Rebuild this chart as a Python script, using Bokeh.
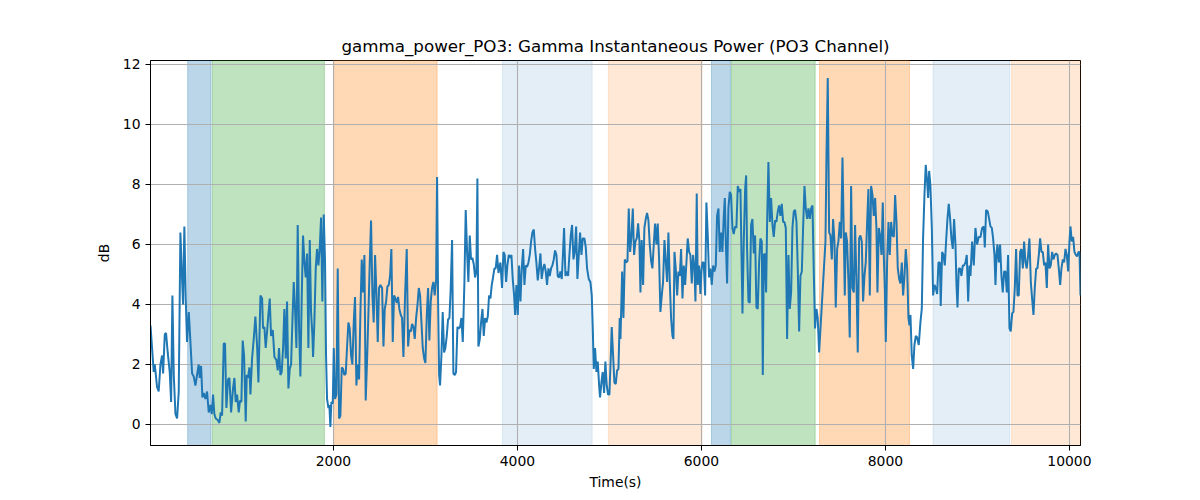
from bokeh.plotting import figure
from bokeh.models import Range1d, FixedTicker, BoxAnnotation
from bokeh.embed import file_html
from bokeh.resources import INLINE

# ---- data: time (s) and gamma power (dB) ----
t_a = [12, 47, 58, 72, 83, 101, 120, 138, 149, 167, 181, 199, 221, 236, 250, 265, 283, 301, 319, 337,
       351, 366, 380, 395, 409, 428, 446, 464, 482, 500, 518, 536, 547, 562, 576, 591, 609, 627, 645, 663,
       678, 692, 706, 721, 743, 761, 775, 790, 808, 822, 837, 855, 870, 888, 909, 924, 938, 953, 971, 985,
       1000, 1014, 1029, 1047, 1058, 1072, 1087, 1098, 1116, 1134, 1152, 1170, 1185]
db_a = [3.3, 1.75, 2.0, 1.6, 1.25, 1.1, 2.0, 2.3, 1.7, 3.0, 3.05, 2.4, 1.75, 0.75, 4.3, 1.65, 0.35, 0.2, 1.1, 6.4,
        5.2, 4.0, 6.6, 4.2, 2.75, 3.75, 2.75, 1.7, 1.6, 1.3, 1.65, 2.0, 1.55, 1.95, 0.9, 1.05, 0.85, 1.1, 0.4, 0.65,
        0.35, 1.0, 0.35, 0.2, 0.15, 0.05, 0.4, 0.3, 2.7, 2.7, 0.55, 1.5, 1.55, 0.4, 1.2, 1.55, 0.75, 1.0, 0.4, 0.8,
        0.75, 2.8, 2.3, 0.1, 1.65, 1.55, 1.9, 1.0, 2.2, 2.85, 3.6, 2.65, 1.4]

t_b = [1207, 1225, 1235, 1250, 1264, 1279, 1293, 1308, 1322, 1341, 1359, 1380, 1395, 1409, 1424, 1438, 1453, 1467,
       1482, 1496, 1511, 1525, 1540, 1554, 1569, 1583, 1598, 1612, 1627, 1641, 1656, 1670, 1685, 1699, 1714, 1728,
       1743, 1757, 1772, 1779, 1793, 1808, 1822, 1837, 1851, 1866, 1880, 1895, 1909, 1920, 1931, 1946, 1956, 1967,
       1978, 1993, 2004, 2018, 2033, 2047, 2062, 2076, 2091, 2105, 2119, 2134, 2148, 2163, 2177, 2192, 2206, 2221,
       2235, 2250, 2264, 2279, 2293, 2308, 2322, 2337, 2351, 2366, 2380, 2395, 2409, 2424, 2438, 2453, 2467, 2482,
       2496]
db_b = [4.3, 4.2, 3.2, 3.25, 2.55, 3.1, 3.65, 4.2, 2.95, 3.15, 2.25, 2.15, 1.8, 2.55, 1.65, 1.75, 2.55, 3.85,
        2.2, 4.1, 1.2, 1.85, 2.0, 3.4, 4.75, 3.85, 2.55, 6.65, 3.2, 1.6, 4.3, 6.3, 5.4, 4.9, 5.7, 2.55,
        6.15, 3.75, 2.95, 2.25, 3.4, 5.2, 5.85, 5.3, 5.85, 6.9, 4.1, 7.0, 5.4, 2.3, 0.85, 0.55, 0.65, -0.08,
        0.75, 0.7, 2.55, 0.85, 1.0, 5.2, 0.2, 0.3, 1.9, 1.85, 1.65, 1.7, 2.55, 3.4, 3.2, 2.3, 2.0, 3.4,
        4.25, 1.3, 2.0, 1.5, 3.65, 5.5, 4.4, 5.65, 0.8, 2.15, 3.65, 5.4, 6.8, 4.3, 3.4, 5.65, 4.4, 2.75,
        4.55]

t_c = [2511, 2529, 2544, 2558, 2573, 2587, 2602, 2616, 2630, 2645, 2659, 2674, 2688, 2703, 2717, 2732, 2746, 2761,
       2779, 2797, 2812, 2826, 2841, 2855, 2870, 2884, 2899, 2913, 2928, 2942, 2957, 2971, 2986, 3000, 3015, 3029,
       3043, 3058, 3072, 3087, 3101, 3116, 3127, 3138, 3149, 3159, 3174, 3188, 3203, 3217, 3232, 3246, 3261, 3275,
       3290, 3304, 3319, 3333, 3348, 3362, 3377, 3391, 3406, 3424, 3438, 3453, 3467, 3482, 3496, 3511, 3525, 3540,
       3554, 3565, 3576, 3591, 3605, 3620, 3634, 3649, 3663, 3678, 3692, 3707, 3721, 3735, 3750, 3764, 3779, 3794]
db_c = [4.65, 4.55, 2.6, 3.85, 4.1, 4.6, 4.65, 4.95, 5.85, 2.75, 4.3, 4.2, 4.05, 4.25, 3.85, 3.65, 3.55, 2.25,
        4.3, 5.85, 2.6, 3.15, 3.1, 3.35, 3.25, 2.85, 3.55, 3.95, 4.55, 4.3, 3.4, 2.55, 2.2, 2.05, 3.65, 4.55,
        2.8, 4.1, 4.55, 4.75, 4.3, 4.8, 8.25, 4.1, 1.65, 1.3, 2.3, 3.75, 2.4, 2.55, 2.95, 3.5, 3.55, 4.55,
        6.15, 1.7, 1.65, 1.75, 3.25, 3.2, 3.25, 3.55, 2.75, 4.75, 7.15, 5.75, 4.75, 6.3, 5.5, 5.55, 5.35, 4.9,
        5.1, 8.2, 2.6, 2.85, 3.4, 3.85, 2.95, 3.55, 3.4, 3.6, 4.3, 4.2, 4.65, 4.9, 5.2, 5.2, 5.65, 5.05]

t_d = [3815, 3833, 3848, 3862, 3877, 3891, 3906, 3920, 3935, 3949, 3964, 3975, 3989, 4004, 4018, 4033, 4047, 4062,
       4076, 4091, 4105, 4120, 4134, 4149, 4163, 4178, 4192, 4206, 4221, 4235, 4250, 4264, 4279, 4293, 4308, 4322,
       4337, 4351, 4366, 4380, 4395, 4409, 4424, 4438, 4453, 4467, 4482, 4496, 4507, 4522, 4536, 4551, 4565, 4580,
       4594, 4609, 4623, 4638, 4652, 4667, 4681, 4696, 4710, 4728, 4743, 4757, 4775, 4793, 4808, 4819, 4830, 4844,
       4859, 4873, 4888, 4898, 4913, 4927, 4942, 4956, 4971, 4985, 5000, 5014, 5025, 5040, 5054, 5069, 5083, 5098,
       5112]
db_d = [5.4, 4.55, 5.75, 5.65, 4.75, 5.3, 5.65, 5.55, 5.65, 4.85, 4.3, 3.65, 4.65, 3.65, 5.3, 4.1, 5.2, 5.85,
        4.65, 5.3, 5.25, 5.4, 5.65, 6.1, 6.4, 6.5, 5.85, 5.4, 4.8, 5.2, 5.7, 4.85, 5.2, 5.35, 5.1, 4.65,
        5.2, 4.95, 5.2, 5.3, 5.5, 5.8, 5.65, 4.95, 4.9, 5.1, 4.85, 5.75, 6.55, 4.95, 5.1, 4.95, 5.65, 6.3,
        6.65, 5.5, 5.75, 6.6, 4.85, 5.65, 6.4, 5.65, 6.2, 6.2, 5.9, 5.2, 4.85, 4.75, 4.3, 3.2, 1.85, 2.55,
        1.75, 2.1, 1.3, 0.9, 1.4, 1.75, 1.05, 2.1, 1.3, 1.0, 1.0, 2.2, 3.25, 2.3, 1.4, 1.35, 1.8, 1.85,
        3.55]

t_e = [5120, 5138, 5152, 5167, 5181, 5196, 5210, 5225, 5239, 5254, 5268, 5283, 5297, 5312, 5326, 5337, 5351, 5366,
       5380, 5395, 5409, 5424, 5438, 5453, 5467, 5482, 5496, 5511, 5525, 5540, 5554, 5569, 5583, 5598, 5612, 5627,
       5641, 5656, 5670, 5685, 5696, 5707, 5721, 5736, 5750, 5765, 5779, 5794, 5808, 5823, 5837, 5851, 5866, 5880,
       5895, 5909, 5924, 5935, 5949, 5960, 5975, 5989, 6000, 6011, 6025, 6040, 6054, 6069, 6083, 6098, 6112, 6127,
       6141, 6156, 6170, 6185, 6199, 6214, 6228, 6243, 6254, 6264, 6279, 6293, 6308, 6322, 6337, 6351, 6366, 6380,
       6395, 6410]
db_e = [2.85, 5.1, 3.55, 5.5, 5.4, 5.45, 7.2, 5.75, 6.25, 7.2, 5.65, 6.1, 6.2, 6.7, 6.1, 4.4, 6.15, 4.65,
        6.55, 6.85, 7.05, 6.8, 6.0, 5.45, 5.2, 6.0, 6.7, 6.0, 6.7, 5.5, 3.75, 4.3, 4.75, 6.15, 5.45, 4.75,
        6.4, 4.75, 3.55, 2.95, 2.85, 5.75, 5.2, 4.3, 5.1, 4.95, 5.85, 4.2, 5.3, 4.65, 5.4, 6.2, 5.75, 5.65,
        4.7, 5.65, 5.2, 4.1, 7.7, 4.65, 5.3, 4.35, 5.1, 5.4, 5.4, 4.3, 7.4, 6.3, 4.9, 5.2, 4.65, 5.3,
        5.1, 5.3, 6.95, 7.2, 5.75, 6.4, 5.75, 6.95, 7.55, 6.2, 4.7, 7.2, 7.75, 7.65, 6.55, 6.35, 6.6, 6.55,
        7.95, 7.75]

t_f = [6424, 6446, 6460, 6475, 6486, 6496, 6511, 6525, 6540, 6554, 6569, 6583, 6598, 6612, 6627, 6641, 6656, 6667,
       6678, 6688, 6703, 6714, 6728, 6743, 6757, 6772, 6786, 6801, 6815, 6830, 6844, 6859, 6873, 6888, 6902, 6917,
       6931, 6946, 6960, 6975, 6989, 7004, 7018, 7033, 7047, 7062, 7076, 7091, 7105, 7120, 7134, 7149, 7163, 7178,
       7192, 7207, 7221, 7235, 7250, 7264, 7279, 7348, 7359, 7373, 7388, 7402, 7417, 7431, 7446, 7460, 7475, 7489,
       7504, 7518, 7533, 7547, 7558, 7569, 7583, 7598, 7612, 7627, 7641, 7656, 7670, 7685, 7699, 7714]
db_f = [7.85, 3.7, 6.1, 7.85, 8.3, 5.85, 4.1, 4.05, 6.65, 6.85, 5.7, 6.3, 3.9, 3.85, 5.4, 6.2, 6.1, 1.65,
        5.65, 5.7, 4.4, 6.75, 8.75, 6.75, 7.55, 6.65, 6.25, 6.8, 6.75, 7.1, 7.3, 6.95, 7.35, 6.75, 6.75, 6.55,
        2.85, 5.65, 3.85, 4.4, 6.55, 7.1, 7.15, 6.75, 5.2, 3.1, 4.95, 5.1, 6.55, 7.95, 7.2, 6.85, 7.2, 6.85,
        7.2, 7.3, 5.1, 3.2, 3.85, 3.55, 2.4, 6.1, 8.95, 11.55, 6.4, 6.3, 5.5, 6.85, 6.1, 3.9, 5.85, 6.1,
        6.75, 6.2, 8.9, 6.4, 4.3, 6.4, 6.1, 4.75, 2.9, 7.95, 4.55, 4.4, 6.65, 4.75, 2.4, 6.2]

t_g = [7728, 7743, 7757, 7772, 7786, 7801, 7815, 7830, 7844, 7859, 7873, 7888, 7902, 7913, 7928, 7942, 7957, 7971,
       7982, 7993, 8004, 8018, 8033, 8047, 8062, 8076, 8091, 8105, 8120, 8134, 8149, 8163, 8178, 8192, 8207, 8221,
       8236, 8250, 8261, 8272, 8286, 8301, 8315, 8330, 8344, 8362, 8380, 8395, 8409, 8424, 8438, 8453, 8464, 8475,
       8489, 8504, 8518, 8533, 8547, 8562, 8576, 8591, 8601, 8616, 8630, 8645, 8659, 8674, 8688, 8703, 8717, 8732,
       8746, 8761, 8772, 8783, 8797, 8812, 8826, 8841, 8855, 8870, 8884, 8899, 8913]
db_g = [6.3, 6.1, 4.1, 4.95, 5.4, 6.75, 7.85, 4.3, 7.95, 7.65, 6.95, 7.55, 6.55, 4.4, 6.55, 6.3, 5.65, 7.4,
        5.65, 4.55, 2.75, 5.4, 6.75, 5.65, 6.75, 6.3, 6.25, 7.65, 6.75, 5.2, 4.85, 4.7, 5.4, 4.3, 4.95, 5.85,
        5.2, 3.55, 3.3, 3.65, 2.3, 1.85, 2.65, 2.95, 2.9, 2.65, 3.4, 3.85, 6.2, 7.65, 8.65, 8.1, 7.55, 8.45,
        7.95, 6.55, 4.3, 4.65, 4.55, 4.35, 5.4, 5.4, 3.95, 5.75, 5.65, 5.3, 6.1, 6.85, 7.35, 6.85, 6.2, 5.85,
        6.85, 6.0, 4.65, 3.9, 5.2, 5.2, 4.95, 5.3, 5.3, 5.4, 5.65, 4.1, 5.3]

t_h = [8924, 8942, 8960, 8978, 8996, 9014, 9033, 9051, 9069, 9080, 9094, 9112, 9127, 9141, 9156, 9170, 9185, 9196,
       9207, 9217, 9232, 9246, 9261, 9275, 9290, 9304, 9319, 9333, 9348, 9362, 9377, 9391, 9406, 9420, 9435, 9449,
       9464, 9478, 9493, 9507, 9522, 9536, 9551, 9565, 9580, 9594, 9609, 9623, 9638, 9652, 9667, 9681, 9696, 9710,
       9725, 9739, 9754, 9768, 9783, 9797, 9812, 9826, 9841, 9855, 9870, 9884, 9899, 9913, 9928, 9942, 9957, 9971,
       9986, 10000, 10011, 10025, 10040, 10054, 10069, 10083, 10098, 10109, 10120]
db_h = [4.95, 6.1, 5.3, 6.55, 6.0, 6.25, 6.25, 6.55, 6.6, 5.9, 7.15, 7.1, 6.85, 6.6, 6.55, 6.2, 5.65, 4.65,
        5.65, 6.0, 5.4, 6.0, 4.95, 4.4, 5.1, 5.1, 4.4, 5.65, 3.2, 3.1, 3.7, 3.75, 4.55, 5.85, 4.3, 4.3,
        5.75, 5.85, 5.2, 6.1, 5.4, 5.2, 5.65, 6.2, 4.75, 4.2, 3.65, 4.55, 5.2, 5.2, 5.65, 6.2, 5.75, 5.75,
        5.3, 5.4, 4.55, 6.0, 5.2, 5.3, 5.75, 5.5, 5.65, 5.7, 5.65, 5.2, 4.65, 5.2, 5.5, 5.4, 5.85, 5.65,
        5.1, 6.1, 6.6, 6.1, 6.25, 5.75, 5.65, 5.6, 5.75, 5.75, 4.3]

# shaded stimulus periods: (start, end, colour, alpha)
span_start = [416, 685, 2002, 3837, 4989, 6109, 6326, 7283, 8517, 9370]
span_end = [670, 1902, 3127, 4812, 6007, 6315, 7236, 8261, 9351, 10120]
span_color = ["#1f77b4", "#2ca02c", "#ff7f0e", "#1f77b4", "#ff7f0e",
              "#1f77b4", "#2ca02c", "#ff7f0e", "#1f77b4", "#ff7f0e"]
span_alpha = [0.3, 0.3, 0.3, 0.12, 0.17, 0.3, 0.3, 0.3, 0.12, 0.17]

x_ticks = [2000, 4000, 6000, 8000, 10000]
y_ticks = [0, 2, 4, 6, 8, 10, 12]

times = t_a + t_b + t_c + t_d + t_e + t_f + t_g + t_h
power = db_a + db_b + db_c + db_d + db_e + db_f + db_g + db_h

FONT = "DejaVu Sans"

p = figure(width=1200, height=500, output_backend="svg", toolbar_location=None,
           x_range=Range1d(12, 10120), y_range=Range1d(-0.7, 12.13),
           min_border_left=150, min_border_right=120, min_border_top=60, min_border_bottom=55,
           title="gamma_power_PO3: Gamma Instantaneous Power (PO3 Channel)")

p.title.align = "center"
p.title.text_font = FONT
p.title.text_font_size = "16.7px"
p.title.text_font_style = "normal"
p.title.text_color = "black"

p.outline_line_color = "black"
p.outline_line_width = 1
p.outline_line_alpha = 1

for ax in (p.xaxis[0], p.yaxis[0]):
    ax.axis_line_color = "black"
    ax.major_tick_line_color = "black"
    ax.major_tick_out = 5
    ax.major_tick_in = 0
    ax.minor_tick_line_color = None
    ax.major_label_text_font = FONT
    ax.major_label_text_font_size = "13.9px"
    ax.major_label_text_color = "black"
    ax.axis_label_text_font = FONT
    ax.axis_label_text_font_size = "13.9px"
    ax.axis_label_text_font_style = "normal"
    ax.axis_label_text_color = "black"

p.xaxis.ticker = FixedTicker(ticks=x_ticks)
p.yaxis.ticker = FixedTicker(ticks=y_ticks)
p.xaxis.axis_label = "Time(s)"
p.yaxis.axis_label = "dB"
p.xaxis.axis_label_standoff = 5
p.yaxis.axis_label_standoff = 8

p.grid.grid_line_color = "#b0b0b0"
p.grid.grid_line_width = 1.1
p.xgrid.ticker = FixedTicker(ticks=x_ticks)
p.ygrid.ticker = FixedTicker(ticks=y_ticks)

for s, e, c, a in zip(span_start, span_end, span_color, span_alpha):
    box = BoxAnnotation(left=s, right=e, fill_color=c, fill_alpha=a,
                        line_color=c, line_alpha=a, line_width=1, level="image")
    p.add_layout(box)

p.line(times, power, line_color="#1f77b4", line_width=2)

open("out.html", "w").write(file_html(p, INLINE))
